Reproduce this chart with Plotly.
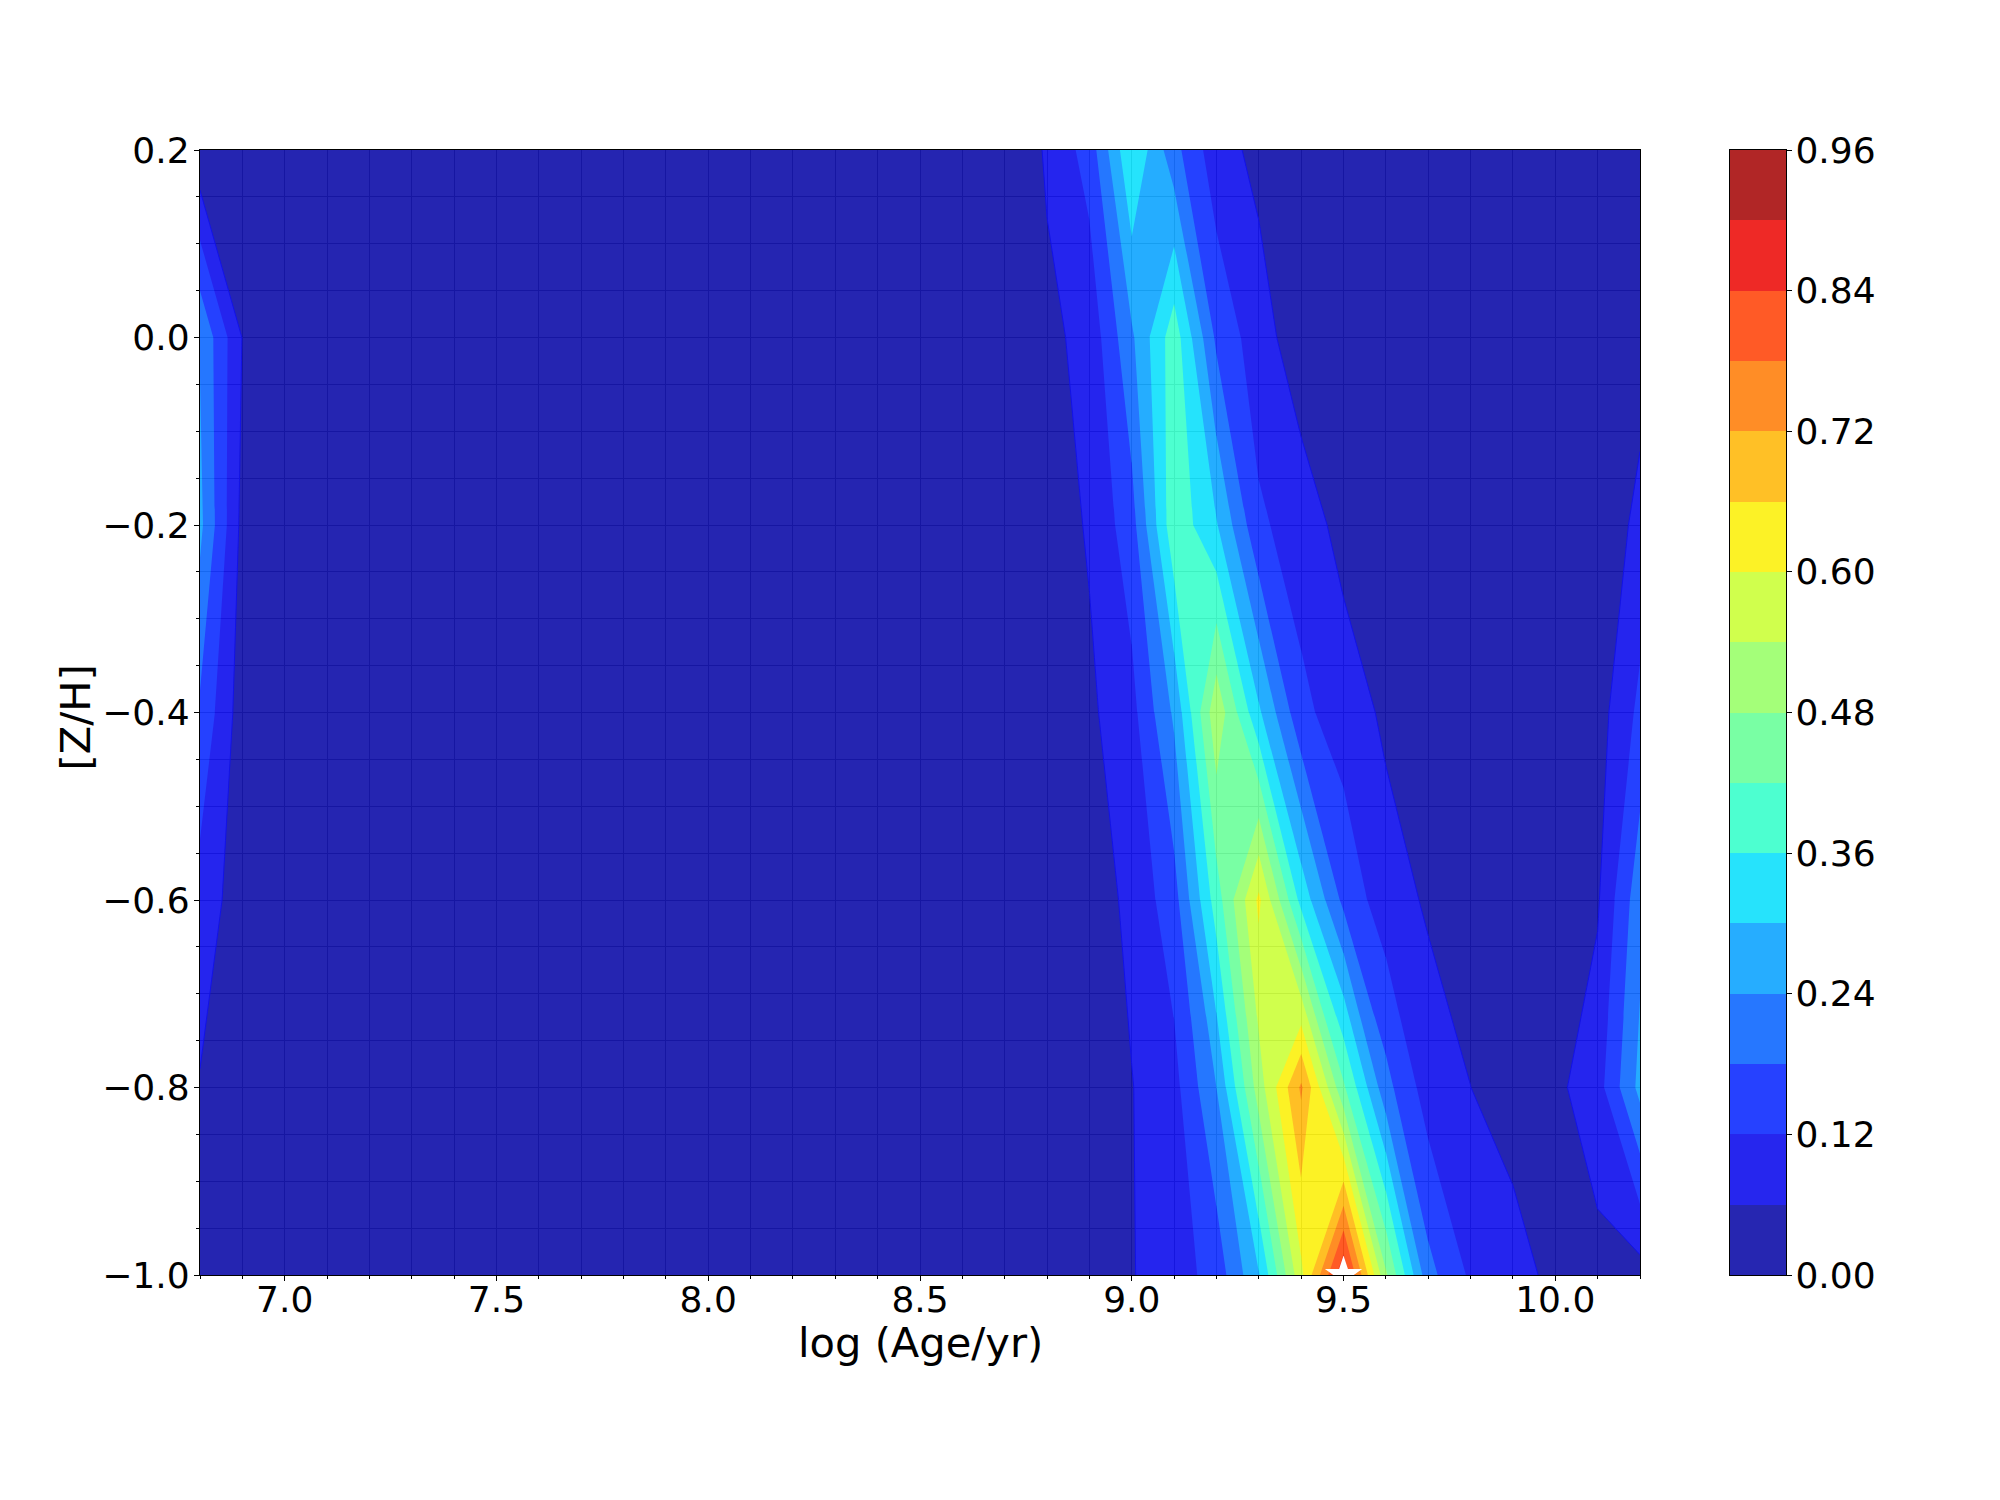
"""Age-metallicity weight map, filled contours with a discrete jet colour bar."""

import plotly.graph_objects as go

age = [6.8, 6.9, 7.0, 7.1, 7.2, 7.3, 7.4, 7.5, 7.6, 7.7, 7.8, 7.9, 8.0, 8.1, 8.2, 8.3, 8.4, 8.5,
       8.6, 8.7, 8.8, 8.9, 9.0, 9.1, 9.2, 9.3, 9.4, 9.5, 9.6, 9.7, 9.8, 9.9, 10.0, 10.1, 10.2]
metal = [-1.0, -0.8, -0.6, -0.4, -0.2, 0.0, 0.2]

# one list per [Z/H] row, columns follow age
z_m10 = [0, 0, 0, 0, 0, 0, 0, 0, 0, 0, 0, 0, 0, 0, 0, 0, 0, 0,
         0, 0, 0.01, 0.03, 0.057, 0.09, 0.145, 0.295, 0.585, 0.89, 0.49, 0.20, 0.11, 0.104, 0.03, 0.041, 0.036]
z_m08 = [0.056, 0.01, 0, 0, 0, 0, 0, 0, 0, 0, 0, 0, 0, 0, 0, 0, 0, 0,
         0, 0, 0.01, 0.03, 0.058, 0.10, 0.24, 0.51, 0.73, 0.43, 0.20, 0.09, 0.0605, 0.012, 0.046, 0.095, 0.258]
z_m06 = [0.096, 0.027, 0, 0, 0, 0, 0, 0, 0, 0, 0, 0, 0, 0, 0, 0, 0, 0,
         0, 0, 0.01, 0.027, 0.075, 0.155, 0.39, 0.613, 0.34, 0.165, 0.085, 0.053, 0.02, 0.01, 0.01, 0.053, 0.22]
z_m04 = [0.17, 0.028, 0, 0, 0, 0, 0, 0, 0, 0, 0, 0, 0, 0, 0, 0, 0, 0,
         0, 0, 0.02, 0.049, 0.10, 0.25, 0.525, 0.31, 0.135, 0.09, 0.05, 0.01, 0, 0, 0, 0.033, 0.135]
z_m02 = [0.255, 0.042, 0, 0, 0, 0, 0, 0, 0, 0, 0, 0, 0, 0, 0, 0, 0, 0,
         0, 0, 0.028, 0.066, 0.155, 0.405, 0.305, 0.131, 0.09, 0.041, 0.008, 0, 0, 0, 0, 0.012, 0.078]
z_p00 = [0.236, 0.058, 0, 0, 0, 0, 0, 0, 0, 0, 0, 0, 0, 0, 0, 0, 0, 0,
         0, 0.005, 0.046, 0.078, 0.23, 0.395, 0.168, 0.085, 0.026, 0.005, 0, 0, 0, 0, 0, 0, 0.032]
z_p02 = [0.012, 0, 0, 0, 0, 0, 0, 0, 0, 0, 0, 0, 0, 0, 0, 0, 0, 0,
         0, 0, 0.068, 0.145, 0.36, 0.20, 0.083, 0.045, 0.01, 0, 0, 0, 0, 0, 0, 0, 0]

levels = [0.00, 0.06, 0.12, 0.18, 0.24, 0.30, 0.36, 0.42, 0.48, 0.54, 0.60, 0.66, 0.72, 0.78, 0.84, 0.90, 0.96]
band_mid = [0.03, 0.09, 0.15, 0.21, 0.27, 0.33, 0.39, 0.45, 0.51, 0.57, 0.63, 0.69, 0.75, 0.81, 0.87, 0.93]
band_colors = ["#0000a4", "#0000ec", "#0020ff", "#0060ff", "#009fff", "#00dffc", "#2effc8", "#62ff95",
               "#95ff62", "#c8ff2e", "#fcf000", "#ffb500", "#ff7a00", "#ff3e00", "#ec0400", "#a40000"]
bar_ticks = [0.00, 0.12, 0.24, 0.36, 0.48, 0.60, 0.72, 0.84, 0.96]

star_age = [9.5]
star_metal = [-1.0]

FONT = "DejaVu Sans"
TICK_SIZE = 36
LABEL_SIZE = 41.6

z = [z_m10, z_m08, z_m06, z_m04, z_m02, z_p00, z_p02]
n_bands = len(band_colors)
bar_scale = []
for i, c in enumerate(band_colors):
    bar_scale += [[i / n_bands, c], [(i + 1) / n_bands, c]]

fig = go.Figure()
fig.add_trace(
    go.Contour(
        x=age,
        y=metal,
        z=z,
        colorscale=band_colors,
        autocontour=False,
        contours=dict(start=0.06, end=0.90, size=0.06, coloring="fill", showlines=False),
        line=dict(smoothing=0, width=0),
        opacity=0.85,
        showscale=False,
    )
)
# the lowest level keeps a thin bright edge in the reference
fig.add_trace(
    go.Contour(
        x=age,
        y=metal,
        z=z,
        autocontour=False,
        contours=dict(start=0.06, end=0.06, size=0.06, coloring="none"),
        line=dict(smoothing=0, width=1, color="#1212e8"),
        showscale=False,
    )
)
fig.add_trace(
    go.Scatter(
        x=star_age,
        y=star_metal,
        mode="markers",
        marker=dict(symbol="star", size=28, color="white", line=dict(width=0)),
        showlegend=False,
    )
)
fig.add_trace(
    go.Heatmap(
        x=[0, 1],
        y=levels,
        z=[[m] for m in band_mid],
        zmin=levels[0],
        zmax=levels[-1],
        colorscale=bar_scale,
        opacity=0.85,
        showscale=False,
        xaxis="x2",
        yaxis="y2",
    )
)

axis_common = dict(
    showline=True,
    linecolor="black",
    linewidth=1.4,
    mirror=True,
    ticks="outside",
    ticklen=5,
    tickwidth=1,
    tickcolor="black",
    tickfont=dict(family=FONT, size=TICK_SIZE, color="black"),
    zeroline=False,
    layer="above traces",
)
grid_color = "#9a9a9a"
label_font = dict(family=FONT, size=LABEL_SIZE, color="black")

fig.update_layout(
    width=1984,
    height=1484,
    autosize=False,
    margin=dict(l=192, r=206, t=142, b=217),
    paper_bgcolor="white",
    plot_bgcolor="white",
    showlegend=False,
    xaxis=dict(
        domain=[0, 1440 / 1586],
        range=[6.8, 10.2],
        tick0=7.0,
        dtick=0.5,
        tickformat=".1f",
        ticklabelstandoff=-12,
        showgrid=True,
        gridcolor=grid_color,
        gridwidth=1,
        minor=dict(dtick=0.1, tick0=6.8, ticks="outside", ticklen=3, tickwidth=1, tickcolor="black",
                   showgrid=True, gridcolor=grid_color, gridwidth=1),
        **axis_common,
    ),
    yaxis=dict(
        range=[-1.0, 0.2],
        tick0=-1.0,
        dtick=0.2,
        tickformat=".1f",
        ticklabelstandoff=-3,
        showgrid=True,
        gridcolor=grid_color,
        gridwidth=1,
        minor=dict(dtick=0.05, tick0=-1.0, ticks="outside", ticklen=3, tickwidth=1, tickcolor="black",
                   showgrid=True, gridcolor=grid_color, gridwidth=1),
        **axis_common,
    ),
    xaxis2=dict(
        domain=[1530 / 1586, 1.0],
        range=[0, 1],
        anchor="y2",
        showticklabels=False,
        showgrid=False,
        showline=True,
        linecolor="black",
        linewidth=1.4,
        mirror=True,
        ticks="",
        zeroline=False,
    ),
    yaxis2=dict(
        domain=[0, 1],
        range=[levels[0], levels[-1]],
        anchor="x2",
        side="right",
        tickvals=bar_ticks,
        tickformat=".2f",
        ticklabelstandoff=-4,
        showgrid=False,
        **axis_common,
    ),
    annotations=[
        dict(
            text="log (Age/yr)",
            xref="paper",
            yref="paper",
            x=0.454,
            y=-0.0596,
            xanchor="center",
            yanchor="middle",
            showarrow=False,
            font=label_font,
        ),
        dict(
            text="[Z/H]",
            textangle=-90,
            xref="paper",
            yref="paper",
            x=-0.0785,
            y=0.496,
            xanchor="center",
            yanchor="middle",
            showarrow=False,
            font=label_font,
        ),
    ],
)

fig.write_html("out.html")
